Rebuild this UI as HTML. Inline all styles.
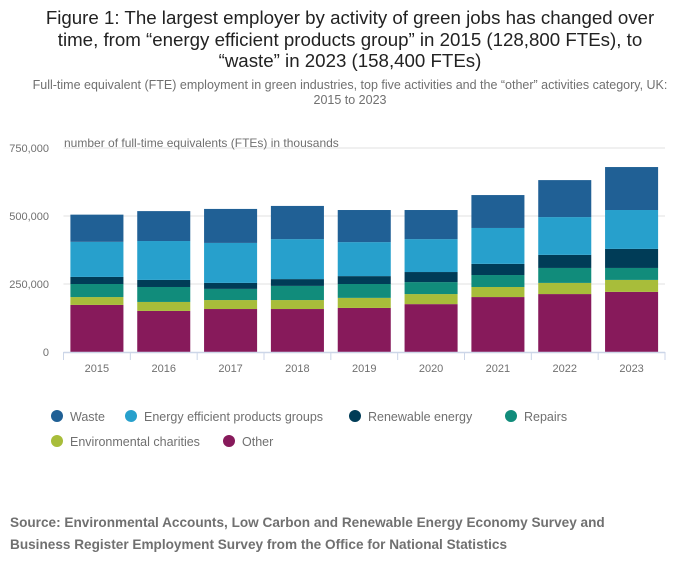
<!DOCTYPE html>
<html><head><meta charset="utf-8"><style>
body{margin:0;width:700px;height:574px;background:#fff;font-family:"Liberation Sans","DejaVu Sans",sans-serif;overflow:hidden;position:relative}
#title{position:absolute;left:0;top:7px;width:700px;text-align:center;font-size:18.7px;line-height:21.5px;color:#222}
#sub{position:absolute;left:20px;top:78px;width:660px;text-align:center;font-size:12.5px;line-height:15px;color:#707070}
#src{position:absolute;left:10px;top:512px;font-size:13.6px;line-height:22px;font-weight:bold;color:#707070}
svg{position:absolute;left:0;top:0}
</style></head><body>
<div id="title">Figure 1: The largest employer by activity of green jobs has changed over<br>time, from “energy efficient products group” in 2015 (128,800 FTEs), to<br>“waste” in 2023 (158,400 FTEs)</div>
<div id="sub">Full-time equivalent (FTE) employment in green industries, top five activities and the “other” activities category, UK:<br>2015 to 2023</div>
<svg id="chart" width="700" height="574"></svg>
<div id="src">Source: Environmental Accounts, Low Carbon and Renewable Energy Economy Survey and<br>Business Register Employment Survey from the Office for National Statistics</div>
<script>
const categories=["2015","2016","2017","2018","2019","2020","2021","2022","2023"];
const seriesNames=["Other","Environmental charities","Repairs","Renewable energy","Energy efficient products groups","Waste"];
const other=[173,151,158,158,162,176,202,213,221];
const envCharities=[29,33,33,33,37,37,37,41,44];
const repairs=[48,55,41,52,51,44,44,55,44];
const renewable=[26,26,22,25,29,37,41,48,70];
const energyEff=[129,143,147,147,125,121,132,139,143];
const waste=[100,110,125,122,118,107,121,136,158];
const yTicks=[0,250,500,750];
const yTickLabels=["0","250,000","500,000","750,000"];
const colors=["#871a5b","#a8bd3a","#118c7b","#003c57","#27a0cc","#206095"];
const NS="http://www.w3.org/2000/svg";
const svg=document.getElementById('chart');
const x0=63.5,x1=665,y0=352,kpx=0.272;
const bw=(x1-x0)/categories.length;
const y=v=>y0-v*kpx;
const xc=i=>x0+bw*i;
function mk(t,a){const e=document.createElementNS(NS,t);for(const k in a)e.setAttribute(k,a[k]);svg.appendChild(e);return e;}
yTicks.forEach((v,i)=>{
 if(v>0){const g=mk('line',{x1:x0,x2:x1,y1:y(v),y2:y(v),stroke:'#e0e0e0','stroke-width':1});
 
 }
 const t=mk('text',{x:49,y:y(v)+4,'text-anchor':'end','font-size':11,fill:'#707070'});t.textContent=yTickLabels[i];
 
 
});
const yt=mk('text',{x:64,y:147,'font-size':12,fill:'#707070'});yt.textContent="number of full-time equivalents (FTEs) in thousands";


const series=[other,envCharities,repairs,renewable,energyEff,waste];
categories.forEach((c,i)=>{
 let cum=0;
 series.forEach((s,j)=>{
  const r=mk('rect',{x:xc(i)+6.9,width:bw-13.8,y:y(cum+s[i]),height:s[i]*kpx,fill:colors[j]});
  
  
  cum+=s[i];
 });
 const t=mk('text',{x:xc(i)+bw/2,y:372,'text-anchor':'middle','font-size':11,fill:'#707070'});t.textContent=c;
 
 
});
for(let i=0;i<=categories.length;i++){const l=mk('line',{x1:xc(i),x2:xc(i),y1:y0,y2:y0+8,stroke:'#ccd6e8','stroke-width':1});
 
 }
const ax=mk('line',{x1:x0,x2:x1,y1:y0+0.5,y2:y0+0.5,stroke:'#ccd6e8','stroke-width':1.5});


const legend=[["Waste",5,57,416],["Energy efficient products groups",4,131,416],["Renewable energy",3,355,416],["Repairs",2,511,416],["Environmental charities",1,57,441],["Other",0,229,441]];
legend.forEach(([n,ci,lx,ly])=>{
 const c=mk('circle',{cx:lx,cy:ly,r:6,fill:colors[ci]});
 
 
 const t=mk('text',{x:lx+13,y:ly+5,'font-size':12.5,fill:'#707070'});t.textContent=n;
 
 
});
</script>
</body></html>
